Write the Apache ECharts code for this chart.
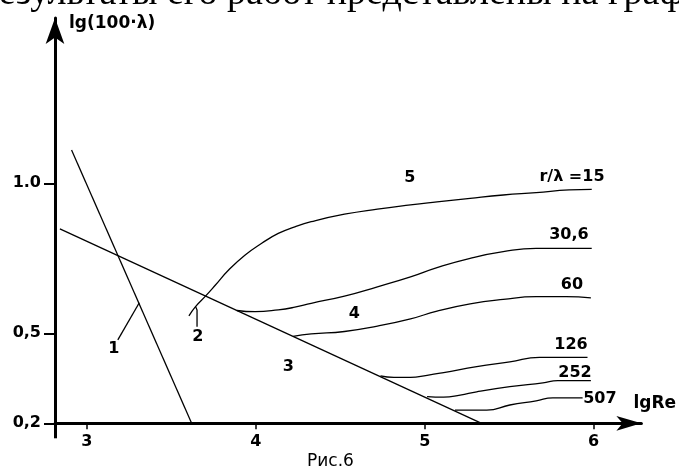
<!DOCTYPE html>
<html><head><meta charset="utf-8">
<script src="https://cdn.jsdelivr.net/npm/echarts@6/dist/echarts.min.js"></script>
<style>html,body{margin:0;padding:0;background:#fff}#c{width:679px;height:468px}</style>
</head><body><div id="c"></div>
<script>
// Axis ticks
const xTickValues = [3, 4, 5, 6];
const xTickLabels = ['3', '4', '5', '6'];
const yTickValues = [0.2, 0.5, 1.0];
const yTickLabels = ['0,2', '0,5', '1.0'];

// Straight lines (lgRe, lg(100λ))
const laminarLine = [[2.909, 1.111], [3.620, 0.2]];
const smoothPipeLine = [[2.840, 0.848], [5.337, 0.2]];

// Roughness curves r/λ
const curve15 = [[3.604,0.558],[3.643,0.589],[3.702,0.624],[3.761,0.661],[3.839,0.711],[3.937,0.761],[4.035,0.800],[4.133,0.833],[4.231,0.855],[4.328,0.872],[4.525,0.897],[4.720,0.914],[4.916,0.928],[5.073,0.938],[5.269,0.950],[5.465,0.961],[5.660,0.969],[5.856,0.978],[5.989,0.980]];
const curve30_6 = [[3.888,0.576],[3.996,0.572],[4.133,0.578],[4.231,0.587],[4.328,0.600],[4.525,0.624],[4.720,0.655],[4.916,0.688],[5.073,0.719],[5.269,0.750],[5.465,0.772],[5.660,0.783],[5.837,0.783],[5.989,0.783]];
const curve60 = [[4.221,0.490],[4.328,0.498],[4.525,0.506],[4.720,0.524],[4.916,0.548],[5.073,0.574],[5.269,0.598],[5.465,0.613],[5.660,0.622],[5.837,0.622],[5.984,0.618]];
const curve126 = [[4.738,0.358],[4.818,0.353],[4.916,0.353],[5.014,0.360],[5.112,0.369],[5.308,0.389],[5.504,0.405],[5.680,0.420],[5.964,0.420]];
const curve252 = [[5.014,0.289],[5.112,0.287],[5.210,0.294],[5.308,0.305],[5.504,0.322],[5.700,0.335],[5.788,0.342],[5.984,0.342]];
const curve507 = [[5.179,0.244],[5.367,0.244],[5.504,0.261],[5.660,0.275],[5.759,0.285],[5.935,0.285]];

// Leader lines for region labels 1 and 2
const leader1 = [[3.183,0.478],[3.310,0.602]];
const leader2 = [[3.643,0.589],[3.652,0.578],[3.652,0.522]];

// Text annotations [text, lgRe, lg(100λ)]
const regionLabels = [['1',3.159,0.448],['2',3.657,0.488],['3',4.192,0.389],['4',4.583,0.564],['5',4.912,1.017]];
const curveLabels = [['r/λ =15',5.872,1.02],['30,6',5.854,0.828],['60',5.872,0.661],['126',5.866,0.461],['252',5.89,0.367],['507',6.037,0.28]];

const X_MIN = 2.811, X_MAX = 6.283, Y_MIN = 0.2, Y_MAX = 1.551;
const FONT = 'DejaVu Sans';

const lineSeries = (data, smooth) => ({
  type: 'line', data, showSymbol: false, smooth: smooth ? 0.5 : false, silent: true,
  lineStyle: { color: '#000', width: 1.3 }
});

const chart = echarts.init(document.getElementById('c'), null, { renderer: 'canvas' });
chart.setOption({
  animation: false,
  backgroundColor: '#fff',
  title: [
    { text: 'Результаты его работ представлены на графике', left: -22, top: -25, padding: 0,
      textStyle: { fontFamily: 'Liberation Serif', fontSize: 38, fontWeight: 'normal', color: '#000' } },
    { text: 'Рис.6', left: 307, top: 453, padding: 0,
      textStyle: { fontFamily: FONT, fontSize: 17, fontWeight: 'normal', color: '#000' } }
  ],
  grid: { left: 55, right: 679 - 646, top: 18, bottom: 44.7, containLabel: false },
  xAxis: [
    {
      type: 'value', min: X_MIN, max: X_MAX, position: 'bottom',
      name: 'lgRe', nameLocation: 'end', nameGap: -8,
      nameTextStyle: { fontFamily: FONT, fontSize: 17, fontWeight: 'bold', color: '#000', align: 'left', verticalAlign: 'bottom', padding: [0, 0, 11, 0] },
      axisLine: { show: true, onZero: false, symbol: ['none', 'arrow'], symbolSize: [11, 25], lineStyle: { color: '#000', width: 3 } },
      axisTick: { show: true, customValues: xTickValues, length: 6, lineStyle: { color: '#000', width: 1.5 } },
      axisLabel: { show: true, customValues: xTickValues, margin: 11, fontFamily: FONT, fontSize: 16, fontWeight: 'bold', color: '#000',
        formatter: v => xTickLabels[xTickValues.indexOf(Math.round(v * 1000) / 1000)] ?? '' },
      splitLine: { show: false }
    },
    {
      type: 'value', min: X_MIN, max: X_MAX, position: 'bottom',
      axisLine: { show: false, onZero: false },
      axisTick: { show: true, customValues: [X_MIN], length: 15, lineStyle: { color: '#000', width: 3 } },
      axisLabel: { show: false },
      splitLine: { show: false }
    }
  ],
  yAxis: {
    type: 'value', min: Y_MIN, max: Y_MAX,
    name: 'lg(100·λ)', nameLocation: 'end', nameGap: -6,
    nameTextStyle: { fontFamily: FONT, fontSize: 17, fontWeight: 'bold', color: '#000', align: 'left', verticalAlign: 'middle', padding: [0, 0, 0, 14] },
    axisLine: { show: true, onZero: false, symbol: ['none', 'arrow'], symbolSize: [14, 26], lineStyle: { color: '#000', width: 3 } },
    axisTick: { show: true, customValues: yTickValues, length: 11, lineStyle: { color: '#000', width: 2 } },
    axisLabel: { show: true, customValues: yTickValues, margin: 14, fontFamily: FONT, fontSize: 16, fontWeight: 'bold', color: '#000',
      formatter: v => yTickLabels[yTickValues.indexOf(Math.round(v * 1000) / 1000)] ?? '' },
    splitLine: { show: false }
  },
  series: [
    lineSeries(laminarLine, false),
    lineSeries(smoothPipeLine, false),
    lineSeries(curve15, true),
    lineSeries(curve30_6, true),
    lineSeries(curve60, true),
    lineSeries(curve126, true),
    lineSeries(curve252, true),
    lineSeries(curve507, true),
    lineSeries(leader1, false),
    lineSeries(leader2, false),
    {
      type: 'scatter', silent: true, symbolSize: 1,
      itemStyle: { color: 'rgba(0,0,0,0)' },
      data: regionLabels.concat(curveLabels).map(d => ({ name: d[0], value: [d[1], d[2]] })),
      label: { show: true, position: 'inside', formatter: p => p.name, fontFamily: FONT, fontSize: 16, fontWeight: 'bold',
        color: '#000', textBorderWidth: 0, opacity: 1 }
    }
  ]
});
</script></body></html>
